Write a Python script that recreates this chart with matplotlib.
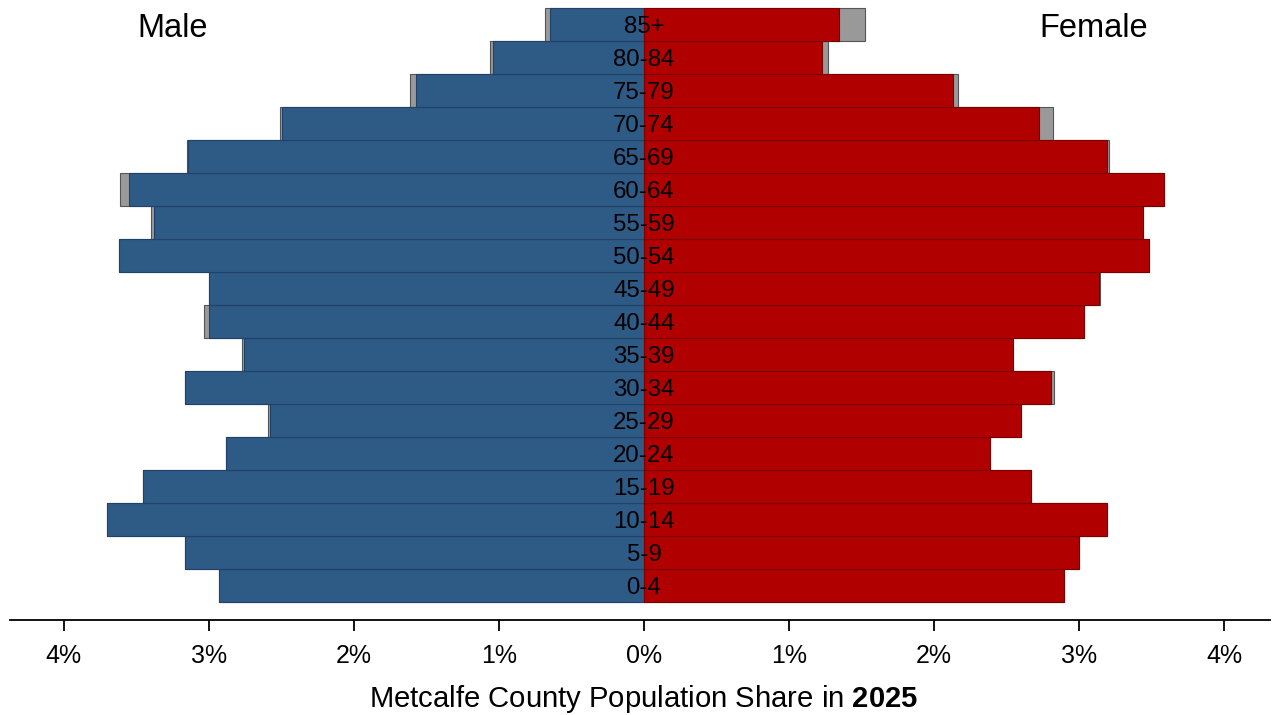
import matplotlib
matplotlib.use("Agg")
import matplotlib.pyplot as plt
import numpy as np

ages = ['0-4', '5-9', '10-14', '15-19', '20-24', '25-29', '30-34', '35-39', '40-44',
        '45-49', '50-54', '55-59', '60-64', '65-69', '70-74', '75-79', '80-84', '85+']
male = [2.93, 3.16, 3.70, 3.45, 2.88, 2.58, 3.16, 2.76, 3.00,
        3.00, 3.615, 3.375, 3.55, 3.145, 2.495, 1.57, 1.04, 0.65]
male_total = [2.93, 3.16, 3.70, 3.45, 2.88, 2.59, 3.16, 2.77, 3.03,
              3.00, 3.62, 3.40, 3.61, 3.15, 2.51, 1.61, 1.06, 0.68]
female = [2.895, 3.00, 3.19, 2.667, 2.385, 2.598, 2.803, 2.545, 3.035,
          3.136, 3.48, 3.437, 3.586, 3.189, 2.724, 2.132, 1.225, 1.344]
female_total = [2.895, 3.00, 3.19, 2.667, 2.385, 2.60, 2.828, 2.545, 3.035,
                3.14, 3.48, 3.437, 3.586, 3.207, 2.816, 2.167, 1.271, 1.523]
xticks = [-4, -3, -2, -1, 0, 1, 2, 3, 4]
xtick_labels = ['4%', '3%', '2%', '1%', '0%', '1%', '2%', '3%', '4%']
title_year = '2025'
county = 'Metcalfe County'

plt.rcParams['font.family'] = ['Liberation Sans', 'DejaVu Sans']
plt.rcParams['mathtext.fontset'] = 'custom'
plt.rcParams['mathtext.rm'] = 'Liberation Sans'
plt.rcParams['mathtext.bf'] = 'Liberation Sans:bold'

W, H = 1281, 715
fig = plt.figure(figsize=(W / 100, H / 100), dpi=100)
ax = fig.add_axes([10 / W, 1 - 620 / H, 1260 / W, 620 / H])

y = np.arange(len(ages))
blue = '#2e5a86'
red = '#b00000'
gray = '#999999'

ax.barh(y, [-v for v in male_total], height=1.0, color=gray, edgecolor='#555555', linewidth=0.8)
ax.barh(y, female_total, height=1.0, color=gray, edgecolor='#555555', linewidth=0.8)
ax.barh(y, [-v for v in male], height=1.0, color=blue, edgecolor='#1f4266', linewidth=0.8)
ax.barh(y, female, height=1.0, color=red, edgecolor='#7a0000', linewidth=0.8)

for yi, lab in zip(y, ages):
    ax.text(0, yi - 0.258, lab, ha='center', va='baseline', fontsize=17.3, color='black')

ax.set_xlim((10 - 644) / 145.1, (1270 - 644) / 145.1)
ax.set_ylim(-0.5 - 18 / 33, 17.5 + 8 / 33)
ax.set_xticks(xticks)
ax.set_xticklabels(xtick_labels, fontsize=18)
ax.set_yticks([])
for s in ['top', 'right', 'left']:
    ax.spines[s].set_visible(False)
ax.spines['bottom'].set_linewidth(1.3)
ax.tick_params(axis='x', length=8, width=1.3, pad=9, direction='out')

fig.text(173 / W, 1 - 37 / H, 'Male', ha='center', va='baseline', fontsize=23.5)
fig.text(1093.5 / W, 1 - 37 / H, 'Female', ha='center', va='baseline', fontsize=23.5)
fig.text(643.5 / W, 1 - 707 / H, county + ' Population Share in $\\mathbf{' + title_year + '}$',
         ha='center', va='baseline', fontsize=21.1)

fig.savefig('out.png', dpi=100)
